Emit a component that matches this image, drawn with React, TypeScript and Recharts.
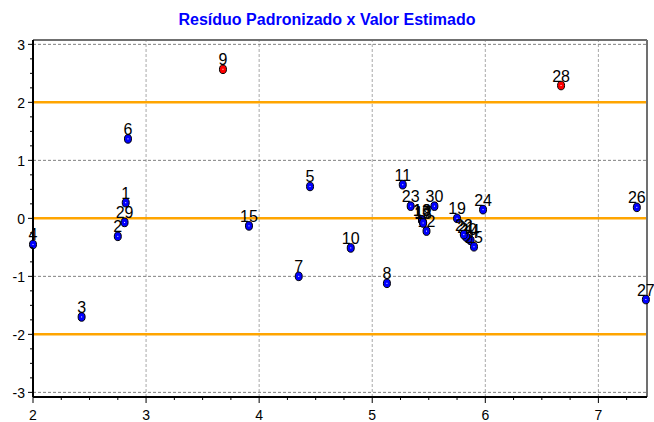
import React from "react";
import {
  ScatterChart,
  Scatter,
  XAxis,
  YAxis,
  ReferenceLine,
} from "recharts";

// observation number, estimated value, standardized residual
const IDS = [
  1, 2, 3, 4, 5, 6, 7, 8, 9, 10, 11, 12, 13, 14, 15, 16, 17, 18, 19, 20, 21,
  22, 23, 24, 25, 26, 27, 28, 29, 30,
];
const ESTIMATED = [
  2.82, 2.75, 2.43, 2.0, 4.45, 2.84, 4.35, 5.13, 3.68, 4.81, 5.27, 5.48, 5.44,
  5.87, 3.91, 5.44, 5.45, 5.45, 5.75, 5.85, 5.83, 5.81, 5.34, 5.98, 5.9, 7.34,
  7.42, 6.67, 2.81, 5.55,
];
const RESIDUALS = [
  0.27, -0.31, -1.7, -0.45, 0.55, 1.37, -1.0, -1.12, 2.57, -0.51, 0.58, -0.22,
  -0.03, -0.38, -0.13, -0.03, -0.07, -0.08, 0.0, -0.35, -0.32, -0.28, 0.21,
  0.15, -0.49, 0.19, -1.4, 2.29, -0.07, 0.21,
];

const X_MAJOR = [2, 3, 4, 5, 6, 7];
const Y_MAJOR = [-3, -2, -1, 0, 1, 2, 3];
const LIMIT_LINES = [-2, 0, 2];
const X_DOMAIN: [number, number] = [2, 7.43];
const Y_DOMAIN: [number, number] = [-3.08, 3.075];

const minorTicks = (lo: number, hi: number) => {
  const out: number[] = [];
  for (let i = Math.ceil(lo * 4); i <= Math.floor(hi * 4); i++) out.push(i / 4);
  return out;
};
const X_TICKS = minorTicks(X_DOMAIN[0], X_DOMAIN[1]);
const Y_TICKS = minorTicks(Y_DOMAIN[0], Y_DOMAIN[1]);

const data = IDS.map((id, i) => ({
  id,
  x: ESTIMATED[i],
  y: RESIDUALS[i],
}));

const FONT = "Arial, 'Liberation Sans', sans-serif";

const XTick = (props: any) => {
  const { x, y, payload } = props;
  const major = Number.isInteger(payload.value);
  return (
    <g>
      <line x1={x} x2={x} y1={y} y2={y + (major ? 6 : 3)} stroke="#000" />
      {major && (
        <text x={x} y={y + 23} textAnchor="middle" fontSize={14} fontFamily={FONT} fill="#000">
          {payload.value}
        </text>
      )}
    </g>
  );
};

const YTick = (props: any) => {
  const { x, y, payload } = props;
  const major = Number.isInteger(payload.value);
  return (
    <g>
      <line x1={x} x2={x - (major ? 5 : 3)} y1={y} y2={y} stroke="#000" />
      {major && (
        <text x={x - 8} y={y + 5.5} textAnchor="end" fontSize={14} fontFamily={FONT} fill="#000">
          {payload.value}
        </text>
      )}
    </g>
  );
};

const PointShape = (props: any) => {
  const { cx, cy, payload } = props;
  const outlier = Math.abs(payload.y) > 2;
  return (
    <g>
      <ellipse
        cx={cx}
        cy={cy}
        rx={3.5}
        ry={4.3}
        fill={outlier ? "#FF0000" : "#0000FF"}
        stroke="#000"
        strokeWidth={1}
      />
      <rect x={cx - 0.5} y={cy - 0.5} width={1} height={1} fill="#fff" />
      <text x={cx} y={cy - 4} textAnchor="middle" fontSize={16} fontFamily={FONT} fill="#000">
        {payload.id}
      </text>
    </g>
  );
};

const App: React.FC = () => {
  return (
    <div style={{ position: "absolute", left: 0, top: 0, width: 654, height: 422, background: "#fff" }}>
      <div
        style={{
          position: "absolute",
          top: 12,
          left: 0,
          width: 654,
          textAlign: "center",
          fontFamily: FONT,
          fontWeight: "bold",
          fontSize: 16,
          lineHeight: "16px",
          color: "#0000FF",
        }}
      >
        Resíduo Padronizado x Valor Estimado
      </div>
      <ScatterChart width={654} height={422} margin={{ top: 40, right: 7, left: 0, bottom: 0 }}>
        {X_MAJOR.filter((v) => v > X_DOMAIN[0]).map((v) => (
          <ReferenceLine key={`gx${v}`} x={v} stroke="#a8a8a8" strokeDasharray="3 2" />
        ))}
        {Y_MAJOR.map((v) => (
          <ReferenceLine key={`gy${v}`} y={v} stroke="#808080" strokeDasharray="3 2" />
        ))}
        {LIMIT_LINES.map((v) => (
          <ReferenceLine key={`l${v}`} y={v} stroke="#FFA500" strokeWidth={2.5} />
        ))}
        <ReferenceLine y={Y_DOMAIN[1]} stroke="#707070" strokeWidth={2} />
        <ReferenceLine x={X_DOMAIN[1]} stroke="#707070" strokeWidth={2} />
        <XAxis
          type="number"
          dataKey="x"
          domain={X_DOMAIN}
          ticks={X_TICKS}
          interval={0}
          height={25}
          tickSize={0}
          tickMargin={0}
          tickLine={false}
          axisLine={{ stroke: "#000", strokeWidth: 2 }}
          tick={<XTick />}
        />
        <YAxis
          type="number"
          dataKey="y"
          domain={Y_DOMAIN}
          ticks={Y_TICKS}
          interval={0}
          width={33}
          tickSize={0}
          tickMargin={0}
          tickLine={false}
          axisLine={{ stroke: "#000", strokeWidth: 2 }}
          tick={<YTick />}
        />
        <Scatter data={data} isAnimationActive={false} shape={(p: any) => <PointShape {...p} />} />
      </ScatterChart>
    </div>
  );
};

export default App;
